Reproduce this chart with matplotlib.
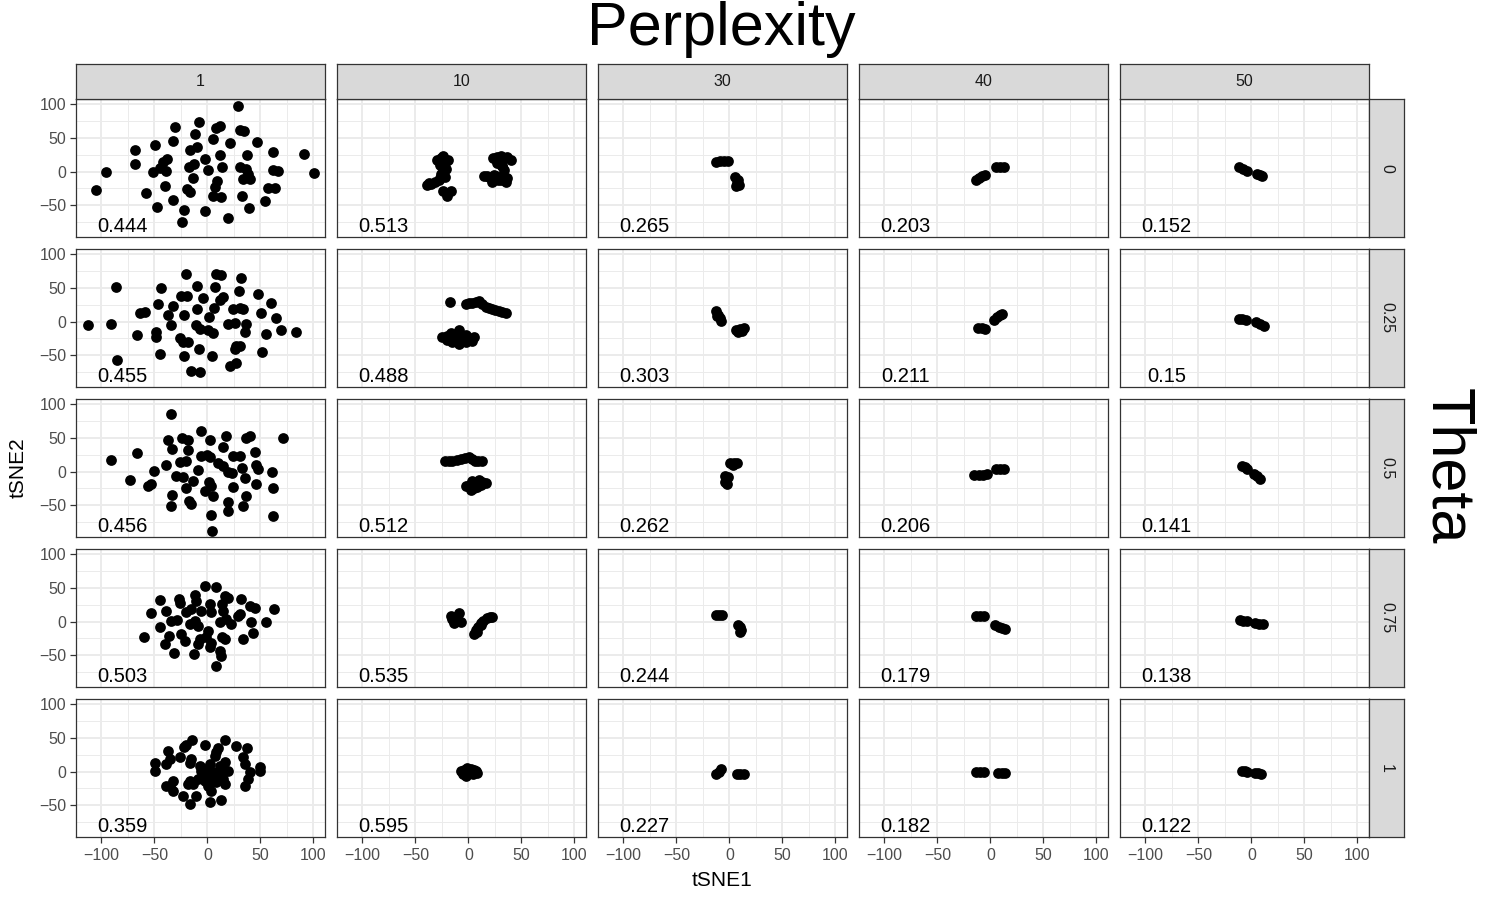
import numpy as np
import matplotlib
matplotlib.use("Agg")
import matplotlib.pyplot as plt

plt.rcParams["font.family"] = ["Liberation Sans", "DejaVu Sans"]

# facet levels
perplexities = [1, 10, 30, 40, 50]
thetas = [0, 0.25, 0.5, 0.75, 1]

# value printed in each panel, one list per theta row (columns follow perplexities)
kl_theta_0 = [0.444, 0.513, 0.265, 0.203, 0.152]
kl_theta_025 = [0.455, 0.488, 0.303, 0.211, 0.15]
kl_theta_05 = [0.456, 0.512, 0.262, 0.206, 0.141]
kl_theta_075 = [0.503, 0.535, 0.244, 0.179, 0.138]
kl_theta_1 = [0.359, 0.595, 0.227, 0.182, 0.122]

# tSNE1 / tSNE2 embeddings (perplexity p, theta t)
p1_t0 = [(28.6, 97.8), (-7.5, 74.0), (-30.8, 65.6), (8.5, 64.1), (11.6, 68.1), (30.5, 61.6),
         (34.6, 60.6), (-11.9, 55.7), (-32.4, 45.8), (5.3, 48.3), (-49.7, 39.9), (21.7, 41.8),
         (46.9, 43.3), (-67.9, 32.4), (-16.7, 32.4), (-9.7, 35.9), (61.9, 28.5), (91.2, 26.0),
         (12.3, 25.0), (37.7, 24.5), (-1.9, 18.6), (-41.8, 13.6), (-38.1, 18.6), (-68.6, 11.1),
         (-17.3, 6.2), (-12.9, 11.1), (-51.3, -0.2), (-45.0, 4.7), (-39.3, 1.2), (13.8, 7.2),
         (0.6, 2.7), (30.5, 6.2), (36.8, 3.7), (38.4, -3.7), (39.9, -11.1), (61.9, 2.2),
         (66.7, 1.2), (-95.9, -1.2), (100.5, -2.2), (-13.5, -9.7), (9.1, -13.6), (6.9, -23.5),
         (5.3, -35.9), (13.2, -38.4), (33.6, -11.1), (-105.3, -27.0), (-39.6, -21.0),
         (-18.9, -26.0), (-16.7, -30.0), (57.2, -25.0), (63.5, -25.0), (-57.5, -31.9),
         (32.7, -36.9), (-32.4, -41.8), (54.1, -44.3), (-47.2, -53.2), (-22.0, -57.2),
         (-2.5, -59.2), (39.0, -54.2), (-23.9, -75.5), (19.5, -69.1)]
p1_t025 = [(-19.8, 70.5), (8.5, 70.5), (12.6, 69.6), (31.4, 64.1), (-85.8, 50.7), (-43.4, 49.3),
           (-9.7, 52.2), (6.9, 51.7), (29.9, 45.8), (47.8, 40.8), (-24.5, 38.4), (-18.9, 37.4),
           (-4.1, 34.9), (14.8, 35.9), (12.3, 32.4), (-46.5, 26.0), (-32.4, 23.5), (59.7, 27.5),
           (-9.7, 18.6), (6.0, 20.0), (24.2, 18.6), (30.5, 19.6), (33.6, 18.6), (-63.2, 12.6),
           (-59.1, 13.6), (-37.1, 9.7), (-22.3, 10.1), (50.9, 12.6), (1.6, 7.2), (64.5, 4.7),
           (-112.5, -5.2), (-90.6, -3.7), (-34.0, -5.2), (-10.4, -5.2), (-6.6, -11.1),
           (0.6, -12.6), (5.3, -17.1), (19.5, -3.7), (25.8, -2.2), (36.8, -3.7), (35.2, -15.1),
           (69.8, -12.1), (84.0, -15.1), (-66.0, -19.6), (-48.7, -16.1), (-48.1, -23.5),
           (55.0, -18.6), (-25.5, -25.0), (-23.0, -30.9), (-18.2, -30.0), (-7.9, -40.8),
           (27.4, -36.9), (30.5, -35.9), (25.8, -40.8), (-44.3, -48.3), (-22.3, -50.7),
           (4.7, -50.7), (51.6, -44.8), (-84.9, -57.2), (21.7, -65.6), (27.4, -62.1),
           (-15.1, -73.0), (-7.2, -74.5)]
p1_t05 = [(-34.3, 85.4), (-6.0, 59.7), (17.9, 53.2), (36.8, 49.3), (39.9, 52.2), (71.4, 49.8),
          (-37.1, 47.3), (-23.6, 49.3), (-18.2, 47.3), (2.2, 47.3), (14.8, 35.9), (-33.0, 33.4),
          (-18.2, 31.9), (-66.0, 27.5), (-90.6, 17.1), (44.7, 29.5), (-5.7, 23.5), (-0.3, 24.5),
          (2.2, 21.0), (24.2, 23.5), (30.5, 22.5), (-38.7, 10.1), (-26.1, 13.6), (-19.8, 16.1),
          (10.1, 12.1), (14.8, 8.7), (19.5, -0.2), (23.6, -2.2), (-8.8, 2.7), (32.7, 5.2),
          (46.2, 9.7), (47.8, 3.7), (-50.6, 1.2), (61.3, -0.2), (-29.2, -6.2), (-23.0, -8.7),
          (-73.3, -13.1), (-13.5, -13.6), (1.6, -15.1), (3.8, -22.0), (-2.5, -28.5),
          (5.3, -35.9), (35.2, -9.7), (-56.0, -21.0), (-52.8, -18.6), (-20.4, -25.0),
          (24.2, -23.5), (46.2, -18.6), (61.9, -25.0), (-33.0, -34.4), (36.8, -36.9),
          (-17.3, -43.3), (-15.1, -48.3), (19.5, -45.8), (-34.6, -51.7), (33.6, -50.7),
          (19.5, -59.2), (3.1, -64.1), (61.9, -65.6), (4.1, -88.0)]
p1_t075 = [(-2.5, 52.2), (8.5, 50.7), (-44.3, 32.4), (-26.7, 33.4), (-25.5, 27.5), (-11.9, 39.4),
           (-10.4, 30.9), (16.4, 37.4), (19.5, 34.4), (31.4, 33.4), (2.8, 26.0), (-52.8, 12.6),
           (-39.3, 15.1), (-19.8, 14.6), (-15.1, 18.6), (-5.7, 16.1), (3.8, 13.6), (14.2, 26.0),
           (14.8, 16.1), (39.9, 22.5), (44.7, 20.0), (62.9, 18.6), (-34.6, 1.2), (-28.3, 2.7),
           (-16.7, -3.7), (-11.9, 1.2), (-8.8, -6.2), (11.6, -1.2), (17.9, 3.7), (22.6, -3.7),
           (28.9, 8.7), (30.5, 11.1), (41.5, -1.2), (55.7, -0.2), (-45.0, -8.7), (-24.5, -18.6),
           (0.6, -13.6), (-0.9, -23.5), (43.1, -17.1), (-60.1, -23.5), (-36.2, -22.0),
           (-21.4, -28.5), (-7.2, -26.0), (-8.8, -33.4), (3.8, -31.9), (2.2, -38.4),
           (14.2, -23.5), (16.4, -26.0), (33.6, -26.0), (-40.3, -33.4), (-31.8, -47.3),
           (-12.6, -48.3), (11.6, -43.3), (13.2, -50.7), (8.5, -65.6)]
p1_t1 = [(-14.2, 46.8), (-2.5, 39.4), (17.0, 47.3), (27.4, 38.4), (37.4, 34.9), (-37.1, 30.9),
         (-22.3, 35.9), (-19.8, 39.4), (10.1, 34.4), (8.5, 28.5), (6.9, 23.5), (-49.7, 12.6),
         (-49.7, 1.2), (-38.7, 11.1), (-35.5, 18.6), (-26.1, 21.0), (-15.1, 18.6), (-16.7, 12.6),
         (33.6, 21.0), (35.2, 11.1), (39.9, -1.2), (38.4, -11.1), (35.2, -22.0), (49.4, 6.2),
         (49.4, 1.2), (-7.2, 8.7), (-0.9, 3.7), (-4.1, -6.2), (2.2, -11.1), (5.3, -1.2),
         (11.6, 8.7), (16.4, 13.6), (8.5, -16.1), (0.6, -21.0), (3.8, -28.5), (19.5, 1.2),
         (14.8, -11.1), (16.4, -18.6), (-16.7, -13.6), (-18.2, -18.6), (-13.5, -18.6),
         (-32.4, -13.6), (-35.5, -21.0), (-38.7, -21.0), (-32.4, -28.5), (-23.0, -35.9),
         (-11.0, -35.9), (-16.7, -48.3), (2.2, -44.8), (13.2, -42.3), (-5.7, 1.2), (0.6, -3.7),
         (6.9, -8.7), (-2.5, -13.6), (11.6, -3.7), (-8.8, -11.1), (2.2, 11.1)]

p10_t0 = [(-29.2, 16.5), (-23.6, 23.5), (-19.2, 17.9), (-26.0, 20.0), (-22.0, 12.0), (-26.7, 9.5),
          (-24.0, 5.0), (-21.4, 3.9), (-25.5, -3.1), (-22.3, -8.0), (-27.0, -10.0), (-37.1, -17.1),
          (-31.4, -15.0), (-35.0, -18.0), (-39.3, -19.9), (-28.0, -12.0), (-23.6, -29.0),
          (-16.7, -29.0), (-20.0, -32.0), (-19.8, -36.0),
          (23.6, 20.0), (27.0, 21.0), (30.5, 23.5), (34.0, 20.0), (36.8, 22.1), (39.9, 17.9),
          (27.4, 13.0), (32.1, 8.1), (32.0, 8.0), (33.6, 2.5), (14.8, -6.0), (18.0, -6.0),
          (19.5, -8.0), (24.2, -4.5), (26.0, -6.0), (28.0, -12.0), (30.5, -8.0), (31.0, -12.0),
          (36.8, -10.1), (22.6, -15.0), (35.2, -15.0)]
p10_t025 = [(-17.6, 29.1), (-2.5, 25.6), (0.5, 27.0), (3.8, 27.7), (7.0, 28.5), (10.1, 30.5),
            (13.0, 26.0), (16.4, 22.1), (19.0, 20.0), (22.6, 18.6), (25.5, 17.0), (28.9, 15.1),
            (32.0, 14.0), (35.2, 13.0),
            (-24.5, -23.5), (-20.0, -22.0), (-16.7, -16.5), (-16.0, -24.0), (-12.0, -20.0),
            (-8.8, -12.9), (-5.0, -22.0), (-2.5, -19.9), (0.0, -25.0), (3.8, -28.3),
            (-8.8, -33.9), (-11.0, -28.0), (-15.1, -30.5), (5.3, -23.5), (-19.8, -26.9),
            (-5.7, -29.1), (-2.0, -30.0)]
p10_t05 = [(-22.3, 15.1), (-18.7, 15.1), (-15.1, 15.1), (-11.0, 17.0), (-7.2, 19.3),
           (-3.0, 20.5), (0.6, 22.1), (3.0, 19.0), (6.0, 15.1), (9.5, 15.0), (13.2, 15.1),
           (-2.5, -21.4), (0.0, -22.0), (3.8, -14.3), (6.0, -18.0), (10.1, -12.9), (13.0, -15.0),
           (16.4, -17.8), (12.0, -20.0), (2.2, -26.9), (5.0, -24.0), (8.5, -22.7)]
p10_t075 = [(-16.7, 8.8), (-12.0, 6.0), (-8.8, 12.3), (-15.0, 4.0), (-13.5, -1.7), (-10.0, 2.0),
            (-6.6, -0.3), (6.9, -12.2), (9.0, -8.0), (12.0, -5.0), (11.6, -1.7), (14.0, 1.0),
            (17.9, 5.3), (20.0, 6.0), (22.6, 7.4), (8.0, -15.0), (5.3, -19.2)]
p10_t1 = [(-7.2, 0.4), (-4.0, 2.0), (-0.9, 5.3), (2.0, 4.0), (5.3, 2.5), (7.0, 1.0),
          (0.0, -2.0), (4.0, -4.0), (-5.0, -3.0), (-2.5, -6.6), (8.5, -1.7)]

p30_t0 = [(-13.0, 14.0), (-9.0, 15.0), (-5.0, 15.5), (-1.0, 15.5),
          (5.0, -8.0), (8.0, -12.0), (7.0, -17.0), (9.0, -20.0), (6.0, -22.0)]
p30_t025 = [(-13.0, 15.0), (-12.0, 8.0), (-11.0, 10.0), (-9.0, 5.0), (-8.0, 1.0),
            (6.0, -13.0), (10.0, -11.0), (14.0, -9.0), (12.0, -14.0), (8.0, -16.0)]
p30_t05 = [(1.0, 12.0), (4.0, 13.0), (7.0, 12.0), (3.0, 9.0),
           (-1.0, -8.0), (-4.0, -6.0), (-3.0, -11.0), (-4.0, -16.0), (-2.0, -19.0)]
p30_t075 = [(-13.0, 9.5), (-10.0, 10.0), (-7.0, 9.5),
            (8.0, -5.0), (10.0, -8.0), (11.0, -12.0), (10.0, -16.0)]
p30_t1 = [(-13.0, -3.0), (-10.0, 0.0), (-8.0, 4.0),
          (7.0, -3.0), (10.0, -3.0), (13.5, -3.5)]

p40_t0 = [(5.0, 7.0), (9.0, 7.0), (13.0, 6.0),
          (-14.0, -13.0), (-11.0, -10.0), (-8.0, -7.0), (-5.5, -5.0)]
p40_t025 = [(3.0, 3.0), (6.0, 6.0), (9.0, 9.0), (11.0, 11.0),
            (-11.5, -9.5), (-8.0, -10.0), (-5.0, -11.5)]
p40_t05 = [(-15.0, -5.5), (-11.0, -5.0), (-7.0, -4.5), (-3.5, -4.0),
           (5.5, 3.5), (9.0, 3.5), (13.0, 3.5)]
p40_t075 = [(-13.5, 7.5), (-10.0, 7.5), (-6.5, 7.5),
            (4.5, -5.5), (8.0, -7.5), (11.0, -9.5), (14.0, -10.5)]
p40_t1 = [(-14.0, -0.5), (-10.0, -0.3), (-6.5, -0.3),
          (7.0, -2.5), (10.5, -2.5), (14.0, -2.5)]

p50_t0 = [(-12.0, 7.0), (-8.0, 4.0), (-4.0, 1.5),
          (5.0, -3.0), (8.0, -5.0), (10.0, -7.0)]
p50_t025 = [(-11.5, 4.0), (-8.5, 3.5), (-5.5, 2.5),
            (4.0, -1.0), (8.0, -3.5), (11.5, -6.0)]
p50_t05 = [(-8.5, 8.0), (-6.0, 6.0), (-4.0, 3.5),
           (2.5, -4.0), (5.0, -7.0), (8.0, -10.5)]
p50_t075 = [(-10.5, 2.5), (-7.5, 1.5), (-4.0, 0.5),
            (3.5, -2.5), (7.0, -3.0), (10.5, -3.8)]
p50_t1 = [(-8.5, 1.0), (-6.5, 0.5), (-4.5, -0.3),
          (3.0, -1.7), (6.0, -2.5), (9.0, -3.0)]

panels = [
    [p1_t0, p10_t0, p30_t0, p40_t0, p50_t0],
    [p1_t025, p10_t025, p30_t025, p40_t025, p50_t025],
    [p1_t05, p10_t05, p30_t05, p40_t05, p50_t05],
    [p1_t075, p10_t075, p30_t075, p40_t075, p50_t075],
    [p1_t1, p10_t1, p30_t1, p40_t1, p50_t1],
]
kl_rows = [kl_theta_0, kl_theta_025, kl_theta_05, kl_theta_075, kl_theta_1]

# layout in pixels (figure is 1500 x 900)
W, H = 1500, 900
col_left = [76 + 261 * c for c in range(5)]
row_top = [99 + 150 * r for r in range(5)]
pw, ph = 249, 138
strip = 35

border = "#333333"
grid_col = "#EBEBEB"

fig = plt.figure(figsize=(15, 9), dpi=100)

for r, theta in enumerate(thetas):
    for c, perp in enumerate(perplexities):
        ax = fig.add_axes([col_left[c] / W, 1 - (row_top[r] + ph) / H, pw / W, ph / H])
        pts = np.array(panels[r][c])
        ax.scatter(pts[:, 0], pts[:, 1], s=60, c="black", linewidths=0, zorder=3)
        ax.text(-80, -82, str(kl_rows[r][c]), ha="center", va="center",
                fontsize=14.5, color="black", zorder=4)

        ax.set_xlim(-124, 111)
        ax.set_ylim(-97.5, 108)
        ax.set_xticks([-100, -50, 0, 50, 100])
        ax.set_xticks([-75, -25, 25, 75], minor=True)
        ax.set_yticks([-50, 0, 50, 100])
        ax.set_yticks([-75, -25, 25, 75], minor=True)
        ax.grid(which="major", color=grid_col, lw=1.4, zorder=0)
        ax.grid(which="minor", color=grid_col, lw=0.7, zorder=0)
        ax.set_axisbelow(True)
        for sp in ax.spines.values():
            sp.set_color(border)
            sp.set_linewidth(0.9)

        ax.tick_params(which="minor", length=0)
        ax.tick_params(which="major", length=4, width=0.9, color=border,
                       labelsize=11.5, labelcolor="#4D4D4D", pad=3)
        ax.tick_params(axis="x", which="major", pad=4)
        if r != 4:
            ax.tick_params(axis="x", which="major", length=0, labelbottom=False)
        if c != 0:
            ax.tick_params(axis="y", which="major", length=0, labelleft=False)

# column strips (perplexity)
for c, perp in enumerate(perplexities):
    sax = fig.add_axes([col_left[c] / W, 1 - row_top[0] / H, pw / W, strip / H])
    sax.set_facecolor("#D9D9D9")
    sax.set_xticks([])
    sax.set_yticks([])
    for sp in sax.spines.values():
        sp.set_color(border)
        sp.set_linewidth(0.9)
    sax.text(0.5, 0.5, str(perp), ha="center", va="center", fontsize=11.5,
             color="#1A1A1A", transform=sax.transAxes)

# row strips (theta)
strip_x = col_left[4] + pw
for r, theta in enumerate(thetas):
    sax = fig.add_axes([strip_x / W, 1 - (row_top[r] + ph) / H, strip / W, ph / H])
    sax.set_facecolor("#D9D9D9")
    sax.set_xticks([])
    sax.set_yticks([])
    for sp in sax.spines.values():
        sp.set_color(border)
        sp.set_linewidth(0.9)
    sax.text(0.5, 0.5, str(theta), ha="center", va="center", fontsize=11.5,
             color="#1A1A1A", rotation=-90, transform=sax.transAxes)

# titles
fig.text(721 / W, 1 - 30 / H, "Perplexity", ha="center", va="center", fontsize=44)
fig.text(1447 / W, 1 - 466 / H, "Theta", ha="center", va="center", fontsize=44, rotation=-90)
fig.text(722 / W, 1 - 880 / H, "tSNE1", ha="center", va="center", fontsize=15)
fig.text(18 / W, 1 - 468 / H, "tSNE2", ha="center", va="center", fontsize=15, rotation=90)

fig.savefig("out.png", dpi=100, facecolor="white")
